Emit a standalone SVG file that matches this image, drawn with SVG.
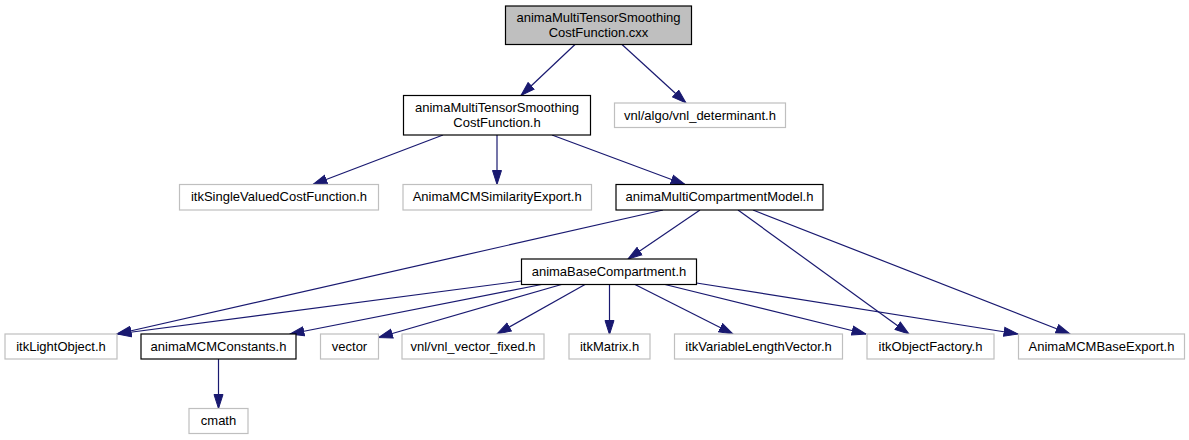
<svg xmlns="http://www.w3.org/2000/svg" width="1189" height="440" viewBox="0 0 1189 440">
<style>
  text { font-family: "Liberation Sans", Arial, Helvetica, sans-serif; font-size: 13px; fill: #000000; text-anchor: middle; }
  .doc { fill: #ffffff; stroke: #000000; stroke-width: 1.2; }
  .ext { fill: #ffffff; stroke: #bfbfbf; stroke-width: 1.2; }
  .root { fill: #bfbfbf; stroke: #000000; stroke-width: 1.2; }
  .edge { stroke: #191970; stroke-width: 1.2; fill: none; marker-end: url(#arr); }
</style>
<defs>
  <marker id="arr" markerUnits="userSpaceOnUse" markerWidth="15" markerHeight="11" viewBox="0 0 15 11" refX="14.5" refY="5.5" orient="auto">
    <path d="M0.5,1 L14.5,5.5 L0.5,10 z" fill="#191970" stroke="#191970" stroke-width="1"/>
  </marker>
</defs>
<rect width="1189" height="440" fill="#ffffff"/>
<g id="connectors">
  <line class="edge" x1="575" y1="44.5" x2="521" y2="95.5"/>
  <line class="edge" x1="622" y1="44.5" x2="686" y2="103"/>
  <line class="edge" x1="443" y1="135" x2="313" y2="184.5"/>
  <line class="edge" x1="497" y1="135" x2="497" y2="184.5"/>
  <line class="edge" x1="552" y1="135" x2="685" y2="184.5"/>
  <line class="edge" x1="663" y1="210" x2="117" y2="334"/>
  <line class="edge" x1="700" y1="210" x2="628" y2="259"/>
  <line class="edge" x1="738" y1="210" x2="909" y2="334"/>
  <line class="edge" x1="753" y1="210" x2="1070" y2="334"/>
  <line class="edge" x1="521.5" y1="281" x2="117" y2="334"/>
  <line class="edge" x1="541.5" y1="284.5" x2="290" y2="334"/>
  <line class="edge" x1="561.5" y1="284.5" x2="378.5" y2="337.5"/>
  <line class="edge" x1="585" y1="284.5" x2="497" y2="334"/>
  <line class="edge" x1="609.5" y1="284.5" x2="609.5" y2="334.5"/>
  <line class="edge" x1="635" y1="284.5" x2="733" y2="334"/>
  <line class="edge" x1="665" y1="284.5" x2="866" y2="334"/>
  <line class="edge" x1="696.5" y1="283" x2="1018" y2="334"/>
  <line class="edge" x1="218.5" y1="359" x2="218.5" y2="408.5"/>
</g>
<g id="node-root">
  <rect class="root" x="505.5" y="6" width="186" height="38.5"/>
  <text x="598.5" y="22">animaMultiTensorSmoothing</text>
  <text x="598.5" y="37">CostFunction.cxx</text>
</g>
<g id="node-costfunction-h">
  <rect class="doc" x="403.5" y="95.5" width="187" height="39.5"/>
  <text x="497" y="111.5">animaMultiTensorSmoothing</text>
  <text x="497" y="126.5">CostFunction.h</text>
</g>
<g id="node-vnl-determinant">
  <rect class="ext" x="614.5" y="103" width="171" height="24.5"/>
  <text x="700" y="119.5">vnl/algo/vnl_determinant.h</text>
</g>
<g id="node-itkSingleValuedCostFunction">
  <rect class="ext" x="179.5" y="184.5" width="199" height="25.5"/>
  <text x="279" y="201">itkSingleValuedCostFunction.h</text>
</g>
<g id="node-AnimaMCMSimilarityExport">
  <rect class="ext" x="403" y="184.5" width="188.5" height="25.5"/>
  <text x="497.2" y="201">AnimaMCMSimilarityExport.h</text>
</g>
<g id="node-animaMultiCompartmentModel">
  <rect class="doc" x="616" y="184.5" width="207" height="25.5"/>
  <text x="719.5" y="201">animaMultiCompartmentModel.h</text>
</g>
<g id="node-animaBaseCompartment">
  <rect class="doc" x="521.5" y="259" width="175" height="25.5"/>
  <text x="609" y="275.5">animaBaseCompartment.h</text>
</g>
<g id="node-itkLightObject">
  <rect class="ext" x="5" y="334" width="112" height="25"/>
  <text x="61" y="350.5">itkLightObject.h</text>
</g>
<g id="node-animaMCMConstants">
  <rect class="doc" x="141" y="334" width="155" height="25"/>
  <text x="218.5" y="350.5">animaMCMConstants.h</text>
</g>
<g id="node-vector">
  <rect class="ext" x="320.5" y="334" width="58" height="25"/>
  <text x="349.5" y="350.5">vector</text>
</g>
<g id="node-vnl-vector-fixed">
  <rect class="ext" x="402" y="334" width="142" height="25"/>
  <text x="473" y="350.5">vnl/vnl_vector_fixed.h</text>
</g>
<g id="node-itkMatrix">
  <rect class="ext" x="569" y="334" width="81" height="25"/>
  <text x="609.5" y="350.5">itkMatrix.h</text>
</g>
<g id="node-itkVariableLengthVector">
  <rect class="ext" x="674.5" y="334" width="168" height="25"/>
  <text x="758.5" y="350.5">itkVariableLengthVector.h</text>
</g>
<g id="node-itkObjectFactory">
  <rect class="ext" x="867" y="334" width="127" height="25"/>
  <text x="930.5" y="350.5">itkObjectFactory.h</text>
</g>
<g id="node-AnimaMCMBaseExport">
  <rect class="ext" x="1018.5" y="334" width="166" height="25"/>
  <text x="1101.5" y="350.5">AnimaMCMBaseExport.h</text>
</g>
<g id="node-cmath">
  <rect class="ext" x="189" y="408.5" width="59" height="25"/>
  <text x="218.5" y="425">cmath</text>
</g>
</svg>
